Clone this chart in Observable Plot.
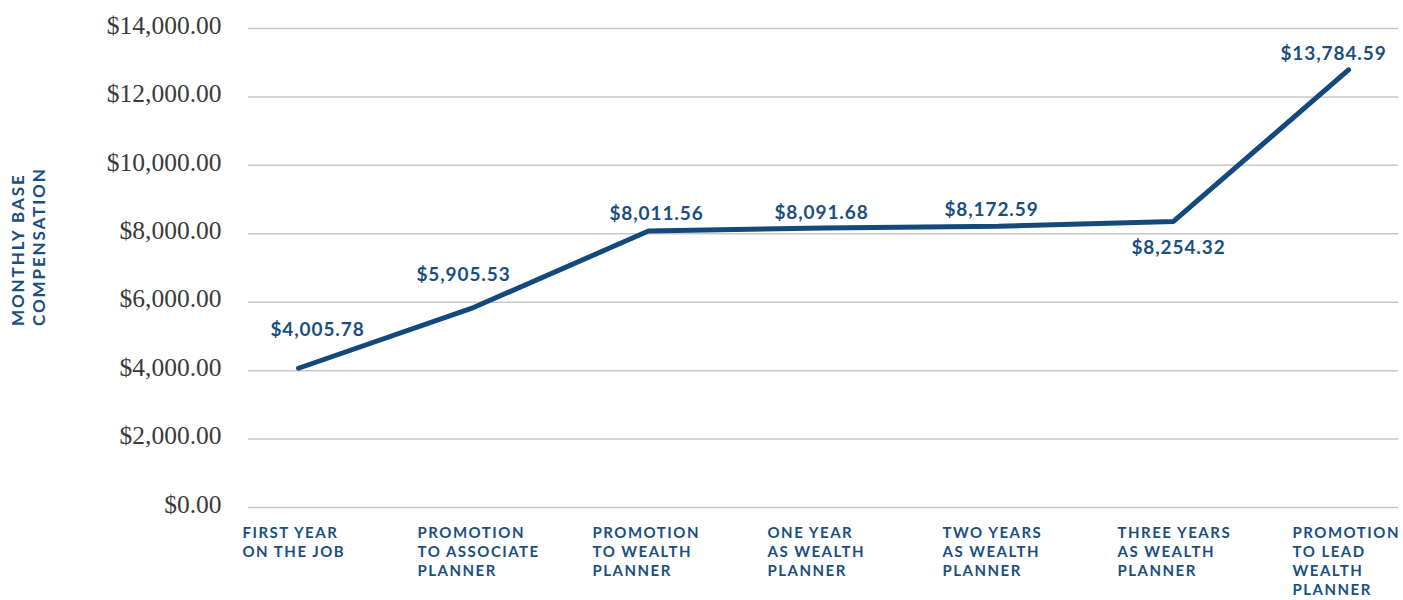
<!DOCTYPE html>
<html>
<head>
<meta charset="utf-8">
<script src="https://cdn.jsdelivr.net/npm/d3@7"></script>
<script src="https://cdn.jsdelivr.net/npm/@observablehq/plot@0.6"></script>
<style>
  html, body { margin: 0; padding: 0; background: #ffffff; }
  #chart { width: 1403px; height: 600px; }
  g[aria-label="x-axis tick label"] { letter-spacing: 1.5px; }
  .ytitle { letter-spacing: 1.9px; }
  .vlabel { letter-spacing: 0.9px; }
</style>
</head>
<body>
<div id="chart"></div>
<script>
// Categories (x axis tick labels)
const categories = [
  "FIRST YEAR\nON THE JOB",
  "PROMOTION\nTO ASSOCIATE\nPLANNER",
  "PROMOTION\nTO WEALTH\nPLANNER",
  "ONE YEAR\nAS WEALTH\nPLANNER",
  "TWO YEARS\nAS WEALTH\nPLANNER",
  "THREE YEARS\nAS WEALTH\nPLANNER",
  "PROMOTION\nTO LEAD\nWEALTH\nPLANNER"
];
// Line values as drawn in the picture
const plottedValues = [4070, 5845, 8080, 8170, 8220, 8360, 12790];
// Value labels as printed
const labelValues = [4005.78, 5905.53, 8011.56, 8091.68, 8172.59, 8254.32, 13784.59];
// Y tick values
const yTicks = [0, 2000, 4000, 6000, 8000, 10000, 12000, 14000];
const yTitle = "MONTHLY BASE\nCOMPENSATION";

const rows = categories.map((c, i) => ({cat: c, value: plottedValues[i], label: labelValues[i]}));

// Label placement (layout only)
const labelDx = [19, -10, 8, -2, -7, 5, -15];
const labelDy = [-38, -33, -17, -15, -16, 26, -16];

const money = d3.format("$,.2f");
const blue = "#134a7b";
const textBlue = "#1a4f7f";

const chart = Plot.plot({
  width: 1403,
  height: 600,
  marginLeft: 248,
  marginRight: 5,
  marginTop: 28,
  marginBottom: 93,
  style: {fontFamily: "Lato, sans-serif", background: "#ffffff"},
  x: {type: "point", domain: categories, padding: 0, insetLeft: 50, insetRight: 50},
  y: {domain: [0, 14000]},
  marks: [
    Plot.gridY(yTicks, {stroke: "#c8c8c8", strokeOpacity: 1, strokeWidth: 1.5}),
    Plot.axisY(yTicks, {
      tickSize: 0, tickPadding: 27, tickFormat: money, label: null,
      fontSize: 25.5, fontFamily: "Liberation Serif, serif", fill: "#3a3a3a", dy: -3
    }),
    Plot.axisX({
      tickSize: 0, tickPadding: 17, label: null, textAnchor: "start", dx: -56,
      lineAnchor: "top", lineHeight: 1.27, fontSize: 15, fontWeight: 700,
      fontFamily: "Lato, sans-serif", fill: textBlue
    }),
    Plot.line(rows, {x: "cat", y: "value", stroke: blue, strokeWidth: 5, strokeLinejoin: "miter", strokeLinecap: "round"}),
    ...rows.map((r, i) => Plot.text([r], {
      x: "cat", y: "value", text: d => money(d.label),
      dx: labelDx[i], dy: labelDy[i],
      fontSize: 19, fontWeight: 700, fontFamily: "Lato, sans-serif", fill: textBlue,
      className: "vlabel"
    })),
    Plot.text([yTitle], {
      frameAnchor: "left", dx: -221, dy: 58, rotate: -90,
      text: d => d, lineHeight: 1.25, lineAnchor: "middle",
      fontSize: 17, fontWeight: 700, fontFamily: "Lato, sans-serif", fill: textBlue,
      className: "ytitle"
    })
  ]
});
document.getElementById("chart").appendChild(chart);
</script>
</body>
</html>
